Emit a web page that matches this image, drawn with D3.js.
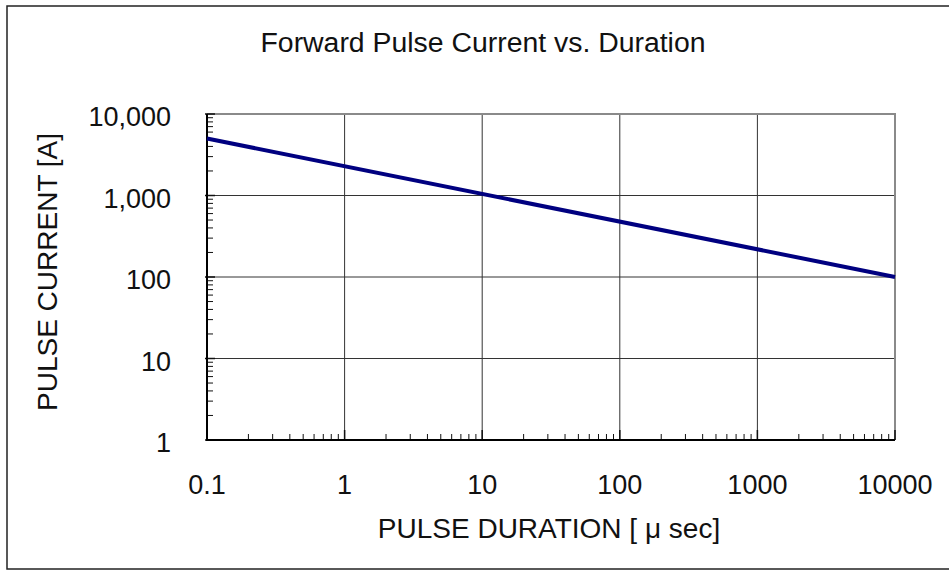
<!DOCTYPE html>
<html>
<head>
<meta charset="utf-8">
<script src="https://cdn.jsdelivr.net/npm/d3@7/dist/d3.min.js"></script>
<style>
  html, body { margin: 0; padding: 0; background: #fff; }
  svg { display: block; font-family: "Liberation Sans", Arial, sans-serif; }
</style>
</head>
<body>
<svg id="chart" width="949" height="570"></svg>
<script>
// Pulse duration (µs) and the matching forward pulse current (A)
const durations = [0.1, 10000];
const currents = [5000, 100];

const xTickValues = [0.1, 1, 10, 100, 1000, 10000];
const xTickLabels = ["0.1", "1", "10", "100", "1000", "10000"];
const yTickValues = [1, 10, 100, 1000, 10000];
const yTickLabels = ["1", "10", "100", "1,000", "10,000"];

const titleText = "Forward Pulse Current vs. Duration";
const xTitle = "PULSE DURATION [ \u03bc sec]";
const yTitle = "PULSE CURRENT [A]";

const W = 949, H = 570;
const plot = { left: 207, right: 895, top: 114, bottom: 440 };

const svg = d3.select("#chart");

// outer frame
svg.append("rect")
  .attr("x", 7).attr("y", 6)
  .attr("width", W + 10).attr("height", 563)
  .attr("fill", "none").attr("stroke", "#222").attr("stroke-width", 1.5);

const x = d3.scaleLog().domain([0.1, 10000]).range([plot.left, plot.right]);
const y = d3.scaleLog().domain([1, 10000]).range([plot.bottom, plot.top]);

// minor tick values for each decade
const minorX = [];
xTickValues.slice(0, -1).forEach(d => { for (let k = 2; k <= 9; k++) minorX.push(d * k); });
const minorY = [];
yTickValues.slice(0, -1).forEach(d => { for (let k = 2; k <= 9; k++) minorY.push(d * k); });

// grid lines at each decade
const grid = svg.append("g").attr("class", "grid");
grid.selectAll("line.gx").data(xTickValues.slice(1, -1)).join("line")
  .attr("x1", d => x(d)).attr("x2", d => x(d))
  .attr("y1", plot.top).attr("y2", plot.bottom)
  .attr("stroke", "#333").attr("stroke-width", 1);
grid.selectAll("line.gy").data(yTickValues.slice(1, -1)).join("line")
  .attr("x1", plot.left).attr("x2", plot.right)
  .attr("y1", d => y(d)).attr("y2", d => y(d))
  .attr("stroke", "#333").attr("stroke-width", 1);

// top and right frame of the plot area
svg.append("path")
  .attr("d", `M${plot.left},${plot.top}H${plot.right}V${plot.bottom}`)
  .attr("fill", "none").attr("stroke", "#8a8a8a").attr("stroke-width", 2);

// inward minor ticks
const ticks = svg.append("g");
ticks.selectAll("line.mx").data(minorX).join("line")
  .attr("x1", d => x(d)).attr("x2", d => x(d))
  .attr("y1", plot.bottom).attr("y2", plot.bottom - 6)
  .attr("stroke", "#111").attr("stroke-width", 1);
ticks.selectAll("line.Mx").data(xTickValues).join("line")
  .attr("x1", d => x(d)).attr("x2", d => x(d))
  .attr("y1", plot.bottom).attr("y2", plot.bottom - 10)
  .attr("stroke", "#111").attr("stroke-width", 1.5);
ticks.selectAll("line.my").data(minorY).join("line")
  .attr("x1", plot.left).attr("x2", plot.left + 6)
  .attr("y1", d => y(d)).attr("y2", d => y(d))
  .attr("stroke", "#111").attr("stroke-width", 1);
ticks.selectAll("line.My").data(yTickValues).join("line")
  .attr("x1", plot.left - 2).attr("x2", plot.left + 8)
  .attr("y1", d => y(d)).attr("y2", d => y(d))
  .attr("stroke", "#111").attr("stroke-width", 1.5);

// left and bottom axis lines
svg.append("path")
  .attr("d", `M${plot.left},${plot.top}V${plot.bottom}H${plot.right}`)
  .attr("fill", "none").attr("stroke", "#000").attr("stroke-width", 2);

// tick labels
svg.append("g").selectAll("text").data(xTickValues).join("text")
  .attr("x", d => x(d)).attr("y", 494)
  .attr("text-anchor", "middle")
  .attr("font-size", 27).attr("fill", "#111")
  .text((d, i) => xTickLabels[i]);

svg.append("g").selectAll("text").data(yTickValues).join("text")
  .attr("x", 171).attr("y", d => y(d) + 12)
  .attr("text-anchor", "end")
  .attr("font-size", 27).attr("fill", "#111")
  .text((d, i) => yTickLabels[i]);

// current vs duration line
const line = d3.line().x(d => x(d[0])).y(d => y(d[1]));
svg.append("path")
  .datum(durations.map((d, i) => [d, currents[i]]))
  .attr("d", line)
  .attr("fill", "none").attr("stroke", "#000080").attr("stroke-width", 4);

// titles
svg.append("text")
  .attr("x", 483).attr("y", 52)
  .attr("text-anchor", "middle")
  .attr("font-size", 28.4).attr("fill", "#111")
  .text(titleText);

svg.append("text")
  .attr("x", 549).attr("y", 538)
  .attr("text-anchor", "middle")
  .attr("font-size", 28).attr("fill", "#111")
  .text(xTitle);

svg.append("text")
  .attr("transform", "translate(56.5,272) rotate(-90)")
  .attr("text-anchor", "middle")
  .attr("font-size", 28).attr("fill", "#111")
  .text(yTitle);
</script>
</body>
</html>
